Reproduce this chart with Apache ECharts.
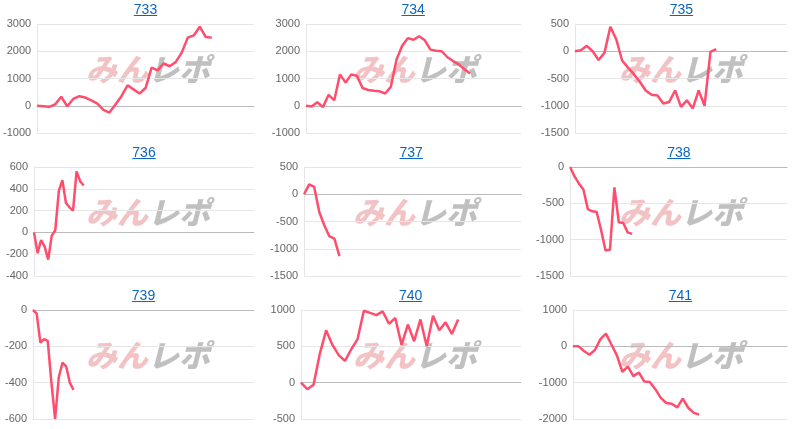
<!DOCTYPE html>
<html>
<head>
<meta charset="utf-8">
<script src="https://cdn.jsdelivr.net/npm/echarts@6/dist/echarts.min.js"></script>
<style>
  body{margin:0;background:#fff;font-family:Arial,"Liberation Sans",sans-serif;}
  #wrap{position:relative;width:800px;height:429px;}
  .cell{position:absolute;width:266px;height:143px;}
  .cell .ch{position:absolute;left:0;top:0;width:266px;height:143px;}
  .cell a{position:absolute;top:1px;transform:translateX(-50%);color:#0b66c3;font-size:14px;text-decoration:underline;z-index:2;}
</style>
</head>
<body>
<div id="wrap"></div>
<script>
// 台番号
var machines = ['733','734','735','736','737','738','739','740','741'];

// 差枚推移
var s733 = [0,-20,-40,50,330,-20,250,350,300,200,80,-150,-250,50,350,750,600,450,650,1400,1300,1550,1450,1600,1950,2500,2580,2900,2520,2500];
var s734 = [0,-30,130,-50,400,200,1150,850,1150,1100,650,580,550,530,450,700,1700,2200,2480,2420,2550,2400,2060,2020,2000,1780,1640,1520,1340,1180];
var s735 = [0,20,100,0,-160,-30,450,220,-170,-300,-420,-560,-720,-800,-810,-960,-930,-720,-1020,-900,-1050,-720,-1000,-10,40];
var s736 = [0,-190,-70,-130,-250,-30,20,380,480,270,230,200,560,470,430];
var s737 = [0,180,135,-325,-570,-770,-815,-1135];
var s738 = [0,-130,-230,-310,-580,-610,-620,-870,-1150,-1140,-280,-760,-770,-900,-920];
var s739 = [0,-20,-180,-160,-170,-400,-600,-370,-290,-310,-400,-440];
var s740 = [0,-90,-30,400,720,520,380,300,460,600,990,960,930,980,810,890,520,800,570,870,500,920,720,830,670,870];
var s741 = [0,0,-130,-230,-100,200,350,50,-250,-700,-560,-820,-720,-970,-980,-1180,-1420,-1560,-1580,-1680,-1440,-1690,-1830,-1880];
var seriesList = [s733,s734,s735,s736,s737,s738,s739,s740,s741];

// x軸のカテゴリ数（ゲーム数区切り）
var catCounts = [37,39,37,63,44,50,61,36,40];

// y軸
var yMins = [-1000,-1000,-1500,-400,-1500,-1500,-600,-500,-2000];
var yMaxs = [3000,3000,500,600,500,0,0,1000,1000];
var yIntervals = [1000,1000,500,200,500,500,200,500,1000];

var lefts = [37,39,42,34,35,37,33,34,40];

var wrap = document.getElementById('wrap');
machines.forEach(function(name, i){
  var col = i % 3, row = Math.floor(i / 3);
  var cell = document.createElement('div');
  cell.className = 'cell';
  cell.style.left = (col * 266.7) + 'px';
  cell.style.top = (row * 143) + 'px';
  var ch = document.createElement('div');
  ch.className = 'ch';
  cell.appendChild(ch);
  var a = document.createElement('a');
  a.href = '#';
  a.textContent = name;
  var gl = lefts[i], gr = 12;
  a.style.left = (gl + (266 - gl - gr) / 2) + 'px';
  cell.appendChild(a);
  wrap.appendChild(cell);

  var cats = [];
  for (var k = 0; k < catCounts[i]; k++) cats.push(k);

  var chart = echarts.init(ch);
  chart.setOption({
    animation: false,
    grid: {left: gl, right: gr, top: 24, bottom: 10},
    graphic: [{
      type: 'text', left: 86, top: 54,
      style: {
        rich: {
          a: {fill: 'rgba(225,110,115,0.42)', fontSize: 31, fontWeight: 900, fontStyle: 'italic', fontFamily: 'Noto Sans CJK JP'},
          b: {fill: 'rgba(130,130,130,0.5)', fontSize: 31, fontWeight: 900, fontStyle: 'italic', fontFamily: 'Noto Sans CJK JP'}
        },
        text: '{a|みん}{b|レポ}'
      },
      z: 0
    }],
    xAxis: {
      type: 'category', data: cats, boundaryGap: false,
      axisLabel: {show: false}, axisTick: {show: false},
      axisLine: {onZero: true, lineStyle: {color: '#bbb'}}
    },
    yAxis: {
      type: 'value', min: yMins[i], max: yMaxs[i], interval: yIntervals[i],
      axisLabel: {color: '#666', fontSize: 11, margin: 6, formatter: function(v){ return String(v); }},
      axisLine: {show: true, lineStyle: {color: '#e6e6e6'}},
      splitLine: {lineStyle: {color: '#e6e6e6'}}
    },
    series: [{
      type: 'line', data: seriesList[i], showSymbol: false,
      lineStyle: {color: '#ff4d6d', width: 2.5}, z: 5
    }]
  });
});
</script>
</body>
</html>
